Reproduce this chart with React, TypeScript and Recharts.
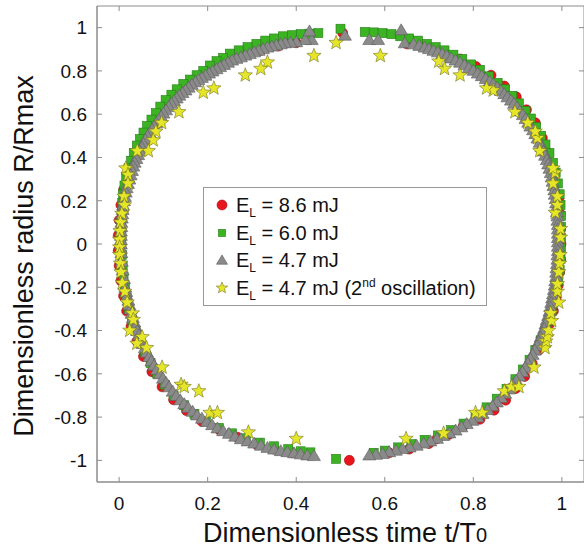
import React from 'react';
import { ScatterChart, Scatter, XAxis, YAxis, Legend, ReferenceArea, Label } from 'recharts';

const xTicks = [0, 0.2, 0.4, 0.6, 0.8, 1];
const yTicks = [-1, -0.8, -0.6, -0.4, -0.2, 0, 0.2, 0.4, 0.6, 0.8, 1];

// E_L = 8.6 mJ
const red86: [number, number][] = [
  [0.505, 0.975], [0.40, 0.93], [0.36, 0.915], [0.32, 0.895], [0.28, 0.87], [0.25, 0.85], [0.22, 0.82],
  [0.19, 0.785], [0.16, 0.745], [0.135, 0.70], [0.11, 0.65], [0.09, 0.60], [0.07, 0.545], [0.055, 0.49],
  [0.042, 0.44], [0.03, 0.38], [0.018, 0.32], [0.01, 0.25], [0.004, 0.18], [0.0, 0.11], [-0.002, 0.04],
  [-0.002, -0.03], [0.0, -0.10], [0.004, -0.17], [0.01, -0.24], [0.017, -0.31], [0.027, -0.38], [0.04, -0.45],
  [0.055, -0.52], [0.074, -0.59], [0.097, -0.66], [0.123, -0.72], [0.152, -0.77], [0.187, -0.82], [0.227, -0.86],
  [0.267, -0.893], [0.31, -0.925], [0.35, -0.948], [0.39, -0.965], [0.52, -1.0], [0.61, -0.965], [0.655, -0.948],
  [0.70, -0.922], [0.718, -0.9], [0.745, -0.88], [0.777, -0.842], [0.815, -0.81], [0.847, -0.768], [0.873, -0.722],
  [0.896, -0.668], [0.916, -0.612], [0.933, -0.552], [0.948, -0.49], [0.961, -0.43], [0.972, -0.37], [0.981, -0.31],
  [0.987, -0.25], [0.992, -0.19], [0.995, -0.13], [0.997, -0.07], [0.998, 0.0], [0.997, 0.07], [0.996, 0.14],
  [0.993, 0.21], [0.988, 0.28], [0.98, 0.35], [0.97, 0.42], [0.956, 0.49], [0.94, 0.56], [0.92, 0.62],
  [0.897, 0.68], [0.87, 0.73], [0.84, 0.78], [0.806, 0.82], [0.77, 0.855], [0.73, 0.885], [0.69, 0.91],
  [0.65, 0.925],
];

// E_L = 6.0 mJ
const green60: [number, number][] = [
  [0.45, 0.975], [0.43, 0.972], [0.41, 0.97], [0.39, 0.965], [0.37, 0.96], [0.35, 0.95], [0.33, 0.94],
  [0.31, 0.925], [0.29, 0.91], [0.27, 0.895], [0.25, 0.88], [0.235, 0.86], [0.22, 0.845], [0.205, 0.825],
  [0.19, 0.80], [0.175, 0.78], [0.16, 0.76], [0.145, 0.74], [0.13, 0.715], [0.118, 0.69], [0.105, 0.665],
  [0.093, 0.635], [0.083, 0.605], [0.073, 0.575], [0.063, 0.545], [0.055, 0.515], [0.047, 0.485], [0.04, 0.455],
  [0.033, 0.42], [0.027, 0.385], [0.021, 0.35], [0.016, 0.31], [0.012, 0.27], [0.009, 0.23], [0.007, 0.19],
  [0.006, 0.15], [0.005, 0.10], [0.005, 0.05], [0.005, 0.0], [0.006, -0.05], [0.008, -0.1], [0.01, -0.15],
  [0.013, -0.2], [0.017, -0.25], [0.022, -0.3], [0.029, -0.35], [0.037, -0.4], [0.047, -0.45], [0.058, -0.5],
  [0.071, -0.55], [0.086, -0.6], [0.103, -0.65], [0.123, -0.7], [0.146, -0.745], [0.17, -0.785], [0.196, -0.82],
  [0.225, -0.85], [0.255, -0.875], [0.286, -0.898], [0.318, -0.918], [0.35, -0.935], [0.382, -0.948],
  [0.41, -0.958], [0.432, -0.963], [0.49, -0.993], [0.50, 0.995],
  [0.555, 0.98], [0.575, 0.978], [0.595, 0.975], [0.615, 0.97], [0.635, 0.96], [0.655, 0.95], [0.675, 0.94],
  [0.695, 0.925], [0.715, 0.91], [0.735, 0.895], [0.755, 0.875], [0.775, 0.855], [0.795, 0.83], [0.815, 0.805],
  [0.835, 0.775], [0.855, 0.745], [0.872, 0.715], [0.888, 0.685], [0.903, 0.65], [0.918, 0.615], [0.93, 0.58],
  [0.942, 0.54], [0.953, 0.5], [0.963, 0.46], [0.972, 0.42], [0.98, 0.375], [0.986, 0.33], [0.991, 0.28],
  [0.995, 0.23], [0.997, 0.18], [0.998, 0.13], [0.998, 0.08], [0.998, 0.03], [0.998, -0.02], [0.997, -0.07],
  [0.995, -0.12], [0.992, -0.17], [0.988, -0.22], [0.983, -0.265], [0.977, -0.31], [0.97, -0.355], [0.962, -0.4],
  [0.952, -0.445], [0.94, -0.49], [0.927, -0.535], [0.912, -0.58], [0.895, -0.625], [0.875, -0.67], [0.853, -0.715],
  [0.83, -0.755], [0.805, -0.795], [0.778, -0.83], [0.75, -0.86], [0.72, -0.885], [0.69, -0.905], [0.66, -0.925],
  [0.63, -0.94], [0.60, -0.955], [0.575, -0.965],
];

// E_L = 4.7 mJ
const gray47: [number, number][] = [
  [0.435, 0.945], [0.42, 0.945], [0.43, 0.985], [0.40, 0.935], [0.387, 0.932], [0.375, 0.93], [0.365, 0.925],
  [0.355, 0.92], [0.345, 0.915], [0.335, 0.91], [0.325, 0.903], [0.315, 0.895], [0.305, 0.888], [0.295, 0.88],
  [0.285, 0.873], [0.275, 0.865], [0.265, 0.858], [0.255, 0.85], [0.246, 0.84], [0.237, 0.83], [0.228, 0.82],
  [0.22, 0.81], [0.211, 0.8], [0.203, 0.79], [0.195, 0.78], [0.187, 0.77], [0.179, 0.76], [0.172, 0.75],
  [0.164, 0.738], [0.157, 0.725], [0.15, 0.712], [0.143, 0.70], [0.136, 0.688], [0.13, 0.675], [0.124, 0.662],
  [0.118, 0.65], [0.112, 0.635], [0.106, 0.62], [0.1, 0.605], [0.095, 0.59], [0.089, 0.575], [0.084, 0.56],
  [0.079, 0.545], [0.074, 0.53], [0.069, 0.515], [0.064, 0.50], [0.059, 0.483], [0.055, 0.465], [0.051, 0.448],
  [0.047, 0.43], [0.043, 0.413], [0.039, 0.395], [0.035, 0.378], [0.032, 0.36], [0.029, 0.34], [0.026, 0.32],
  [0.023, 0.30], [0.02, 0.28], [0.017, 0.26], [0.015, 0.24], [0.013, 0.22], [0.011, 0.2], [0.009, 0.18],
  [0.008, 0.16], [0.007, 0.14], [0.006, 0.12], [0.005, 0.1], [0.005, 0.08], [0.004, 0.06], [0.004, 0.04],
  [0.004, 0.02], [0.004, 0.0], [0.004, -0.02], [0.005, -0.04], [0.006, -0.08], [0.008, -0.12], [0.011, -0.16],
  [0.014, -0.2], [0.016, -0.22], [0.018, -0.24], [0.021, -0.26], [0.023, -0.28], [0.026, -0.30], [0.028, -0.32],
  [0.031, -0.34], [0.034, -0.36], [0.037, -0.38], [0.041, -0.4], [0.045, -0.42], [0.049, -0.44], [0.053, -0.46],
  [0.058, -0.48], [0.063, -0.50], [0.068, -0.52], [0.073, -0.54], [0.079, -0.56], [0.085, -0.58], [0.092, -0.60],
  [0.099, -0.62], [0.106, -0.64], [0.113, -0.66], [0.121, -0.68], [0.129, -0.70], [0.138, -0.72], [0.147, -0.738],
  [0.156, -0.755], [0.166, -0.773], [0.176, -0.79], [0.187, -0.805], [0.198, -0.82], [0.21, -0.835], [0.222, -0.85],
  [0.235, -0.863], [0.248, -0.875], [0.262, -0.888], [0.275, -0.9], [0.29, -0.91], [0.305, -0.92], [0.32, -0.93],
  [0.335, -0.94], [0.35, -0.948], [0.365, -0.955], [0.38, -0.96], [0.395, -0.965], [0.41, -0.97], [0.425, -0.975],
  [0.44, -0.978], [0.51, 0.965],
  [0.565, 0.945], [0.585, 0.945], [0.637, 0.99], [0.645, 0.93], [0.665, 0.925], [0.678, 0.918], [0.69, 0.91],
  [0.70, 0.903], [0.71, 0.895], [0.72, 0.888], [0.73, 0.88], [0.74, 0.87], [0.75, 0.86], [0.76, 0.85],
  [0.77, 0.84], [0.78, 0.828], [0.79, 0.815], [0.80, 0.803], [0.81, 0.79], [0.819, 0.778], [0.828, 0.765],
  [0.837, 0.753], [0.845, 0.74], [0.854, 0.725], [0.862, 0.71], [0.87, 0.695], [0.877, 0.68], [0.885, 0.665],
  [0.892, 0.65], [0.899, 0.633], [0.905, 0.615], [0.912, 0.598], [0.918, 0.58], [0.924, 0.563], [0.929, 0.545],
  [0.935, 0.528], [0.94, 0.51], [0.945, 0.49], [0.95, 0.47], [0.954, 0.45], [0.958, 0.43], [0.962, 0.41],
  [0.966, 0.39], [0.969, 0.37], [0.972, 0.35], [0.975, 0.33], [0.977, 0.31], [0.979, 0.29], [0.981, 0.27],
  [0.983, 0.25], [0.984, 0.23], [0.986, 0.21], [0.987, 0.19], [0.988, 0.17], [0.989, 0.15], [0.99, 0.13],
  [0.99, 0.11], [0.991, 0.09], [0.991, 0.07], [0.991, 0.05], [0.991, 0.03], [0.991, 0.01], [0.991, -0.01],
  [0.991, -0.03], [0.99, -0.05], [0.99, -0.07], [0.989, -0.09], [0.988, -0.11], [0.987, -0.13], [0.987, -0.15],
  [0.985, -0.17], [0.984, -0.19], [0.982, -0.21], [0.98, -0.23], [0.978, -0.25], [0.976, -0.27], [0.974, -0.29],
  [0.972, -0.31], [0.969, -0.33], [0.966, -0.35], [0.963, -0.37], [0.96, -0.39], [0.956, -0.41], [0.952, -0.43],
  [0.948, -0.45], [0.944, -0.47], [0.939, -0.49], [0.934, -0.51], [0.929, -0.53], [0.923, -0.55], [0.917, -0.57],
  [0.911, -0.59], [0.904, -0.61], [0.897, -0.63], [0.889, -0.65], [0.881, -0.67], [0.872, -0.69], [0.863, -0.71],
  [0.853, -0.73], [0.843, -0.748], [0.832, -0.765], [0.821, -0.783], [0.81, -0.80], [0.798, -0.815], [0.785, -0.83],
  [0.773, -0.845], [0.76, -0.86], [0.746, -0.873], [0.732, -0.885], [0.718, -0.898], [0.703, -0.91], [0.688, -0.92],
  [0.672, -0.93], [0.656, -0.938], [0.64, -0.945], [0.625, -0.953], [0.61, -0.96], [0.595, -0.968], [0.58, -0.972],
  [0.565, -0.975],
];

// E_L = 4.7 mJ, 2nd oscillation
const star47b: [number, number][] = [
  [0.44, 0.87], [0.49, 0.93], [0.59, 0.87],
  [0.335, 0.84], [0.32, 0.81], [0.285, 0.78], [0.214, 0.72], [0.19, 0.70], [0.135, 0.61], [0.096, 0.56],
  [0.083, 0.52], [0.077, 0.48], [0.066, 0.43], [0.041, 0.43], [0.015, 0.35], [0.02, 0.32], [0.02, 0.28],
  [0.011, 0.22], [0.012, 0.18], [0.006, 0.14], [0.003, 0.1], [0.002, 0.06], [0.001, 0.02], [0.001, -0.015],
  [0.001, -0.05], [0.003, -0.09], [0.004, -0.13], [0.007, -0.18], [0.013, -0.22], [0.018, -0.27], [0.03, -0.32],
  [0.032, -0.35], [0.024, -0.40], [0.052, -0.43], [0.04, -0.46], [0.062, -0.48], [0.097, -0.57], [0.14, -0.65],
  [0.147, -0.66], [0.18, -0.68], [0.205, -0.78], [0.222, -0.78], [0.292, -0.87], [0.40, -0.90],
  [0.648, -0.90], [0.733, -0.875], [0.805, -0.78], [0.82, -0.78], [0.87, -0.68], [0.886, -0.66], [0.903, -0.66],
  [0.937, -0.57], [0.962, -0.48], [0.964, -0.45], [0.967, -0.43], [0.97, -0.40], [0.977, -0.355], [0.975, -0.32],
  [0.993, -0.27], [0.99, -0.22], [0.99, -0.185], [0.993, -0.13], [0.995, -0.09], [0.996, -0.05], [0.997, 0.03],
  [0.997, 0.07], [0.985, 0.145], [0.99, 0.18], [0.99, 0.22], [0.98, 0.28], [0.985, 0.33], [0.98, 0.35],
  [0.95, 0.43], [0.945, 0.49], [0.94, 0.52], [0.923, 0.56], [0.894, 0.61], [0.845, 0.71], [0.83, 0.72],
  [0.77, 0.78], [0.735, 0.81], [0.722, 0.844],
];

const legendValues = ['8.6', '6.0', '4.7', '4.7'];

const AXIS = '#8c8c8c';
const FONT = '"Liberation Sans", Arial, Helvetica, sans-serif';

const toPts = (arr: [number, number][]) => arr.map(([x, y]) => ({ x, y }));

const CircleMark = ({ cx, cy, s = 1 }: any) => (
  <circle cx={cx} cy={cy} r={5 * s} fill="#e8161c" stroke="#a30d10" strokeWidth={0.6} />
);
const SquareMark = ({ cx, cy, s = 1 }: any) => (
  <rect x={cx - 4.5 * s} y={cy - 4.5 * s} width={9 * s} height={9 * s} fill="#3bb322" stroke="#237f16" strokeWidth={0.6} />
);
const TriangleMark = ({ cx, cy, s = 1 }: any) => (
  <polygon
    points={`${cx},${cy - 6 * s} ${cx + 6.5 * s},${cy + 5 * s} ${cx - 6.5 * s},${cy + 5 * s}`}
    fill="#8a8a8a" stroke="#5c5c5c" strokeWidth={0.6}
  />
);
const starPath = (cx: number, cy: number, R: number, r: number) => {
  let d = '';
  for (let i = 0; i < 10; i++) {
    const a = -Math.PI / 2 + (i * Math.PI) / 5;
    const rad = i % 2 === 0 ? R : r;
    d += `${i === 0 ? 'M' : 'L'}${cx + rad * Math.cos(a)},${cy + rad * Math.sin(a)}`;
  }
  return d + 'Z';
};
const StarMark = ({ cx, cy, s = 1 }: any) => (
  <path d={starPath(cx, cy, 7.5 * s, 3.2 * s)} fill="#e6e629" stroke="#73731f" strokeWidth={0.6} />
);

const legendMarks = [CircleMark, SquareMark, TriangleMark, StarMark];
const legendScale = [1, 0.8, 0.85, 0.8];

const LegendBox = () => (
  <div style={{ border: '1px solid #999', background: '#fff', padding: '3px 0 3px 10px', fontFamily: FONT, fontSize: 20, color: '#111' }}>
    {legendValues.map((v, i) => {
      const Mark = legendMarks[i];
      return (
        <div key={i} style={{ display: 'flex', alignItems: 'center', height: 27.7, whiteSpace: 'nowrap' }}>
          <svg width={16} height={16} style={{ flex: 'none' }}>
            <Mark cx={8} cy={8} s={legendScale[i]} />
          </svg>
          <span style={{ marginLeft: 6, lineHeight: '20px' }}>
            E<sub style={{ fontSize: 12, lineHeight: 0 }}>L</sub> = {v} mJ
            {i === 3 && (
              <> (2<sup style={{ fontSize: 12, lineHeight: 0 }}>nd</sup> oscillation)</>
            )}
          </span>
        </div>
      );
    })}
  </div>
);

const YTick = ({ x, y, payload }: any) => (
  <g>
    <text x={x} y={y} dy="0.36em" textAnchor="end" fontSize={19} fill="#111" fontFamily={FONT}>
      {payload.value}
    </text>
    <line x1={x + 10} x2={x + 15} y1={y} y2={y} stroke={AXIS} />
    <line x1={579} x2={584} y1={y} y2={y} stroke={AXIS} />
  </g>
);

const XTick = ({ x, y, payload }: any) => (
  <g>
    <text x={x} y={y} dy="0.71em" textAnchor="middle" fontSize={19} fill="#111" fontFamily={FONT}>
      {payload.value}
    </text>
    <line x1={x} x2={x} y1={y - 15} y2={y - 20} stroke={AXIS} />
    <line x1={x} x2={x} y1={6} y2={11} stroke={AXIS} />
  </g>
);

const XTitle = () => (
  <text x={345} y={542} textAnchor="middle" fontSize={27} fill="#111" fontFamily={FONT}>
    Dimensionless time t/T<tspan fontSize={20}>0</tspan>
  </text>
);

const YTitle = () => (
  <text transform="translate(33,256) rotate(-90)" textAnchor="middle" fontSize={27} fill="#111" fontFamily={FONT}>
    Dimensionless radius R/Rmax
  </text>
);

export default function App() {
  return (
    <div style={{ position: 'absolute', left: 0, top: 0, background: '#fff' }}>
      <ScatterChart width={584} height={547} margin={{ top: 6, right: 0, bottom: 25, left: 37 }}>
        <XAxis
          type="number"
          dataKey="x"
          domain={[-0.05, 1.05]}
          ticks={xTicks}
          height={40}
          tickSize={0}
          tickMargin={15}
          tickLine={false}
          axisLine={{ stroke: AXIS }}
          tick={<XTick />}
          allowDataOverflow
        >
          <Label content={<XTitle />} />
        </XAxis>
        <YAxis
          type="number"
          dataKey="y"
          domain={[-1.1, 1.1]}
          ticks={yTicks}
          width={60}
          tickSize={0}
          tickMargin={10}
          tickLine={false}
          axisLine={{ stroke: AXIS }}
          tick={<YTick />}
          allowDataOverflow
        >
          <Label content={<YTitle />} />
        </YAxis>
        <ReferenceArea x1={-0.05} x2={1.05} y1={-1.1} y2={1.1} fill="none" stroke={AXIS} ifOverflow="visible" />
        <Scatter name="8.6" data={toPts(red86)} shape={(p: any) => <CircleMark cx={p.cx} cy={p.cy} />} isAnimationActive={false} />
        <Scatter name="6.0" data={toPts(green60)} shape={(p: any) => <SquareMark cx={p.cx} cy={p.cy} />} isAnimationActive={false} />
        <Scatter name="4.7" data={toPts(gray47)} shape={(p: any) => <TriangleMark cx={p.cx} cy={p.cy} />} isAnimationActive={false} />
        <Scatter name="4.7b" data={toPts(star47b)} shape={(p: any) => <StarMark cx={p.cx} cy={p.cy} />} isAnimationActive={false} />
        <Legend
          layout="vertical"
          align="center"
          verticalAlign="middle"
          content={<LegendBox />}
          wrapperStyle={{ left: 203, top: 187, width: 284 }}
        />
      </ScatterChart>
    </div>
  );
}
